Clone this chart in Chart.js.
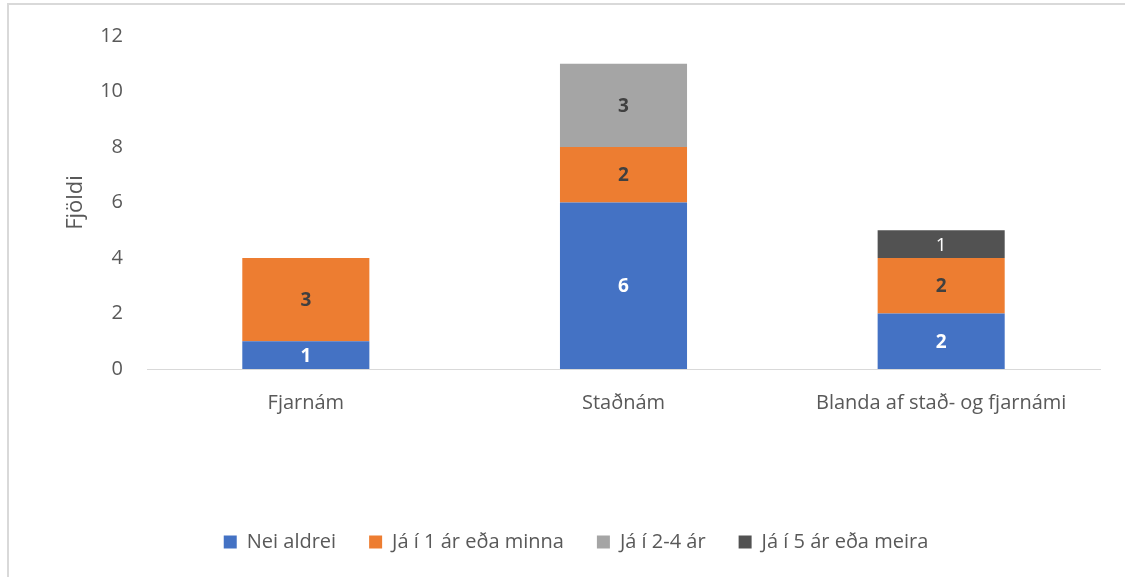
<!DOCTYPE html>
<html>
<head>
<meta charset="utf-8">
<script src="https://cdn.jsdelivr.net/npm/chart.js@4/dist/chart.umd.min.js"></script>
<style>
  html, body { margin: 0; padding: 0; background: #fff; }
  #wrap { position: relative; width: 1125px; height: 577px; overflow: hidden; }
  #frame { position: absolute; left: 7px; top: 3px; width: 1200px; height: 700px;
           border-left: 2px solid #d9d9d9; border-top: 2px solid #d9d9d9; }
  #chartStacked { position: absolute; left: 0; top: 0; }
</style>
</head>
<body>
<div id="wrap">
  <div id="frame"></div>
  <canvas id="chartStacked" width="1125" height="577"></canvas>
</div>
<script>
const categories = ["Fjarnám", "Staðnám", "Blanda af stað- og fjarnámi"];
const seriesNames = ["Nei aldrei", "Já í 1 ár eða minna", "Já í 2-4 ár", "Já í 5 ár eða meira"];
const neiAldrei = [1, 6, 2];
const ja1Ar = [3, 2, 2];
const ja2til4 = [0, 3, 0];
const ja5Ar = [0, 0, 1];
const yTicks = [0, 2, 4, 6, 8, 10, 12];

const barColors = ["#4472C4", "#ED7D31", "#A5A5A5", "#525252"];
const labelColors = ["#ffffff", "#404040", "#404040", "#ffffff"];
const labelWeights = ["bold", "bold", "bold", "normal"];
const fontFamily = "'Open Sans', Lato, sans-serif";

// draws the value in the middle of each bar segment
const barValues = {
    id: "barValues",
    afterDatasetsDraw(chart) {
        const ctx = chart.ctx;
        chart.data.datasets.forEach((ds, i) => {
            const meta = chart.getDatasetMeta(i);
            meta.data.forEach((bar, j) => {
                const v = ds.data[j];
                if (!v) return;
                ctx.save();
                ctx.font = labelWeights[i] + " 19px " + fontFamily;
                ctx.fillStyle = labelColors[i];
                ctx.textAlign = "center";
                ctx.textBaseline = "middle";
                ctx.fillText(String(v), bar.x, (bar.y + bar.base) / 2 + 1);
                ctx.restore();
            });
        });
    },
};

const seriesData = [neiAldrei, ja1Ar, ja2til4, ja5Ar];

const chartStacked = new Chart("chartStacked", {
    type: "bar",
    data: {
    labels: categories,
    datasets: seriesNames.map((name, i) => ({
        label: name,
        data: seriesData[i],
        backgroundColor: barColors[i],
        borderWidth: 0,
        barPercentage: 0.4,
        categoryPercentage: 1,
    })),
    },
    options: {
    responsive: false,
    animation: false,
    layout: {
        padding: { left: 52, right: 25, top: 33, bottom: 15 },
    },
    plugins: {
        legend: {
        position: "bottom",
        labels: {
            boxWidth: 13,
            boxHeight: 13,
            padding: 33,
            color: "#595959",
            font: { family: fontFamily, size: 20 },
        },
        },
        tooltip: { enabled: false },
    },
    scales: {
        x: {
        stacked: true,
        grid: { display: false, drawTicks: false },
        border: { color: "#d9d9d9", width: 1 },
        ticks: {
            color: "#595959",
            padding: 22,
            font: { family: fontFamily, size: 20 },
        },
        afterFit(scale) { scale.height = 130; },
        },
        y: {
        stacked: true,
        min: 0,
        max: 12,
        afterBuildTicks(scale) {
            scale.ticks = yTicks.map(v => ({ value: v }));
        },
        grid: { display: false, drawTicks: false },
        border: { display: false },
        title: {
            display: true,
            text: "Fjöldi",
            color: "#595959",
            padding: { top: 11, bottom: 0 },
            font: { family: fontFamily, size: 22 },
        },
        ticks: {
            color: "#595959",
            padding: 24,
            font: { family: fontFamily, size: 20 },
        },
        afterFit(scale) { scale.width = 95; },
        },
    },
    },
    plugins: [barValues],
});
</script>
</body>
</html>
